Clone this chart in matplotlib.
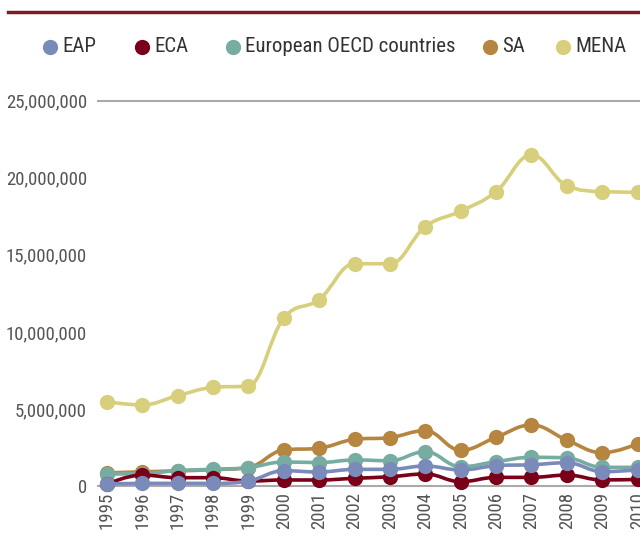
import matplotlib
matplotlib.use("Agg")
import matplotlib.pyplot as plt
from matplotlib.path import Path
from matplotlib.patches import PathPatch
from matplotlib.lines import Line2D
from matplotlib.ticker import FuncFormatter
import numpy as np

plt.rcParams['font.family'] = ['Roboto Condensed', 'Archivo Narrow', 'DejaVu Sans']

years = list(range(1995, 2011))

# values in millions
eap = [0.13, 0.17, 0.17, 0.17, 0.32, 0.99, 0.91, 1.08, 1.08, 1.30, 1.04, 1.32, 1.38, 1.51, 0.93, 1.04]
eca = [0.13, 0.71, 0.54, 0.54, 0.32, 0.39, 0.39, 0.50, 0.60, 0.78, 0.28, 0.56, 0.56, 0.71, 0.39, 0.43]
oecd = [0.78, 0.80, 1.00, 1.08, 1.19, 1.56, 1.52, 1.69, 1.64, 2.23, 1.25, 1.58, 1.86, 1.82, 1.21, 1.21]
sa = [0.85, 0.92, 0.98, 1.06, 1.20, 2.34, 2.45, 3.03, 3.14, 3.59, 2.32, 3.16, 3.96, 2.98, 2.16, 2.73]
mena = [5.47, 5.26, 5.86, 6.40, 6.49, 10.88, 12.10, 14.42, 14.42, 16.83, 17.83, 19.10, 21.48, 19.49, 19.10, 19.06]

names = ["EAP", "ECA", "European OECD countries", "SA", "MENA"]
colors = ["#7b8bb9", "#7a0019", "#77aca2", "#b6853f", "#d8cf7c"]
series = [eap, eca, oecd, sa, mena]


def spline_path(x, y, smoothing=1.5):
    # highcharts-like spline: bezier control points per point
    n = len(x)
    lc = [(x[i], y[i]) for i in range(n)]
    rc = [(x[i], y[i]) for i in range(n)]
    for i in range(1, n - 1):
        d = smoothing + 1
        lx = (smoothing * x[i] + x[i - 1]) / d
        ly = (smoothing * y[i] + y[i - 1]) / d
        rx = (smoothing * x[i] + x[i + 1]) / d
        ry = (smoothing * y[i] + y[i + 1]) / d
        corr = 0
        if rx != lx:
            corr = (ry - ly) * (rx - x[i]) / (rx - lx) + y[i] - ry
        ly += corr
        ry += corr
        if ly > y[i - 1] and ly > y[i]:
            ly = max(y[i - 1], y[i]); ry = 2 * y[i] - ly
        elif ly < y[i - 1] and ly < y[i]:
            ly = min(y[i - 1], y[i]); ry = 2 * y[i] - ly
        if ry > y[i + 1] and ry > y[i]:
            ry = max(y[i + 1], y[i]); ly = 2 * y[i] - ry
        elif ry < y[i + 1] and ry < y[i]:
            ry = min(y[i + 1], y[i]); ly = 2 * y[i] - ry
        lc[i] = (lx, ly)
        rc[i] = (rx, ry)
    verts = [(x[0], y[0])]
    codes = [Path.MOVETO]
    for i in range(1, n):
        verts += [rc[i - 1], lc[i], (x[i], y[i])]
        codes += [Path.CURVE4] * 3
    return Path(verts, codes)


fig = plt.figure(figsize=(6.4, 5.35), dpi=100)
W, H = 640, 535
ax = fig.add_axes([98 / W, 49 / H, (640 - 98) / W, (486 - 100.7) / H])

for vals, c, z in zip(series[::-1], colors[::-1], range(5)):
    yv = [v * 1e6 for v in vals]
    path = spline_path(years, yv)
    ax.add_patch(PathPatch(path, fill=False, edgecolor=c, lw=2.6, zorder=2 + z * 2, clip_on=False))
    ax.plot(years, yv, 'o', color=c, ms=11, mec='none', zorder=3 + z * 2, clip_on=False)

ax.set_xlim(1995 - 8.7 / 35.4, 2010 + 2.3 / 35.4)
ax.set_ylim(0, 25e6)
for s in ax.spines.values():
    s.set_visible(False)
ax.axhline(25e6, color='#aaaaaa', lw=1.5, zorder=1, clip_on=False)
ax.axhline(0, color='#aaaaaa', lw=1.5, zorder=1, clip_on=False)

ax.set_yticks(np.arange(0, 25e6 + 1, 5e6))
ax.yaxis.set_major_formatter(FuncFormatter(lambda v, p: f"{int(v):,}"))
ax.set_xticks(years)
ax.set_xticklabels([str(y) for y in years], rotation=90, va='top')
ax.tick_params(axis='both', length=0, colors='#555555', labelsize=13.5)
ax.tick_params(axis='y', pad=8)
ax.tick_params(axis='x', pad=4)

# legend placed item by item
leg_dot_x = [50, 142, 233, 490, 563]
leg_txt_x = [62, 154, 245, 502, 575]
leg_y = 1 - 47 / H
for name, c, dx, tx in zip(names, colors, leg_dot_x, leg_txt_x):
    fig.add_artist(Line2D([dx / W], [leg_y], marker='o', ls='none', color=c, ms=11, mec='none'))
    fig.text(tx / W, leg_y, name, ha='left', va='center', fontsize=15, color='#333333')

fig.add_artist(Line2D([8 / W, 1], [1 - 12 / H, 1 - 12 / H], color='#7d1a2b', lw=2.5))

fig.savefig("out.png", dpi=100)
